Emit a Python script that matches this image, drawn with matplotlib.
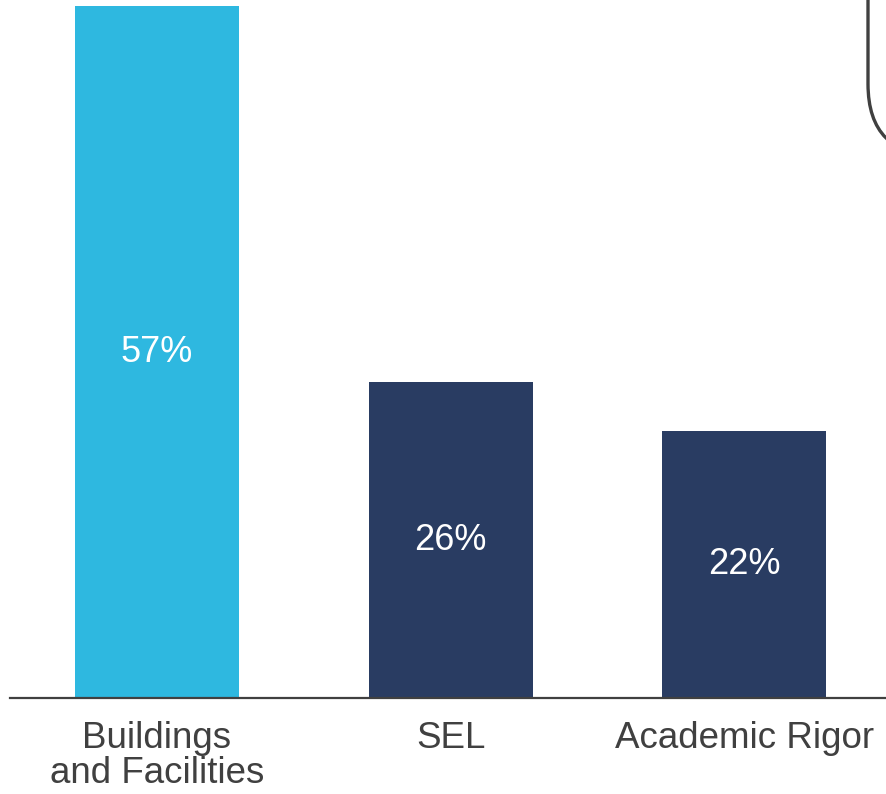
import matplotlib
matplotlib.use("Agg")
import matplotlib.pyplot as plt
from matplotlib.patches import FancyBboxPatch

# share of responses by priority area
categories = ["Buildings\nand Facilities", "SEL", "Academic Rigor"]
values = [57, 26, 22]
bar_colors = ["#2EB8E0", "#293C62", "#293C62"]

plt.rcParams['font.family'] = ['Liberation Sans', 'DejaVu Sans']

fig = plt.figure(figsize=(8.86, 7.94), dpi=100)
ax = fig.add_axes([10/886, 96/794, 876/886, 698/794])

x = list(range(len(categories)))
bars = ax.bar(x, values, width=0.558, color=bar_colors, zorder=2)

# value labels in the middle of each bar
for b, v in zip(bars, values):
    ax.text(b.get_x() + b.get_width()/2, v/2, f"{v}%", ha='center', va='center',
            color='white', fontsize=26)

ax.set_xlim(-0.5005, 2.482)
ax.set_ylim(0, 57.5)
ax.set_xticks(x)
ax.set_xticklabels(categories, fontsize=26.5, color='#404040', linespacing=1.0)
ax.tick_params(axis='x', length=0, pad=16.5)
ax.set_yticks([])
for s in ['top', 'left', 'right']:
    ax.spines[s].set_visible(False)
ax.spines['bottom'].set_color('#404040')
ax.spines['bottom'].set_linewidth(1.6)
ax.spines['bottom'].set_zorder(3)

# callout box running off the top right corner
box = FancyBboxPatch((8.68, 6.38), 3.0, 3.0,
                     boxstyle="round,pad=0,rounding_size=0.72",
                     transform=fig.dpi_scale_trans, fill=False,
                     edgecolor='#404040', linewidth=2.4, clip_on=False)
fig.patches.append(box)

plt.savefig("out.png", dpi=100)
plt.close()
